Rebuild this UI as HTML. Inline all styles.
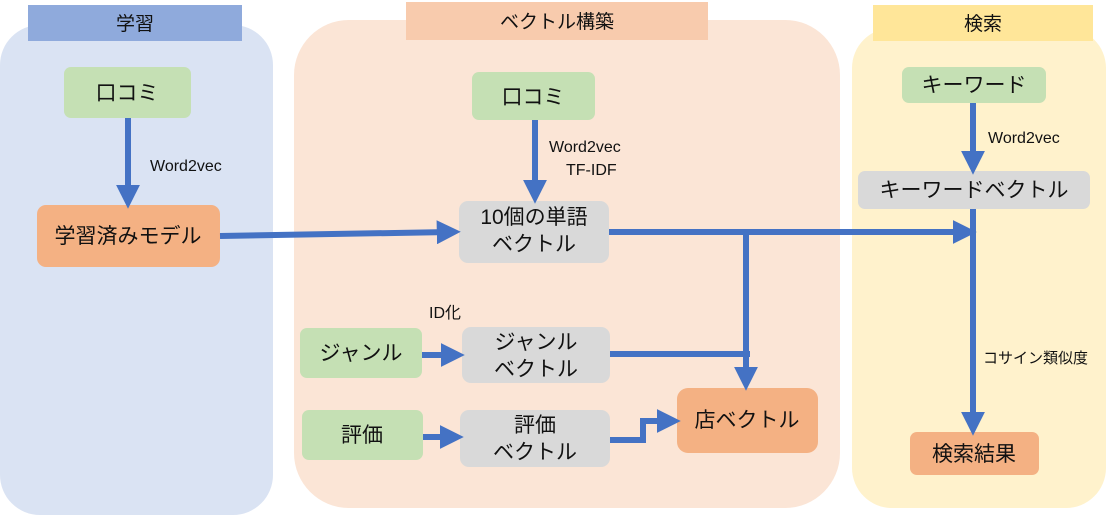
<!DOCTYPE html>
<html><head><meta charset="utf-8"><style>
body{margin:0;width:1115px;height:517px;background:#fff;overflow:hidden;font-family:"Liberation Sans","Noto Sans CJK JP",sans-serif}
</style></head><body>
<svg width="1115" height="517" xmlns="http://www.w3.org/2000/svg" font-family="Liberation Sans, Noto Sans CJK JP, sans-serif">
<defs><marker id="a" markerWidth="4" markerHeight="4" refX="2.2" refY="2" orient="auto" markerUnits="strokeWidth"><path d="M0,0 L4,2 L0,4z" fill="#4472c4"/></marker></defs>
<rect x="0" y="25" width="273" height="490" rx="40" fill="#dae3f3"/>
<rect x="294" y="20" width="546" height="488" rx="55" fill="#fbe5d6"/>
<rect x="852" y="28" width="254" height="480" rx="40" fill="#fff2cc"/>
<rect x="28" y="5" width="214" height="36" fill="#8faadc"/>
<rect x="406" y="2" width="302" height="38" fill="#f8cbad"/>
<rect x="873" y="5" width="220" height="36" fill="#ffe699"/>
<g font-size="19" fill="#111" text-anchor="middle">
<text x="135" y="30">学習</text><text x="557" y="28">ベクトル構築</text><text x="983" y="30">検索</text>
</g>
<g fill="#c5e0b4"><rect x="64" y="67" width="127" height="51" rx="7"/><rect x="472" y="72" width="123" height="48" rx="7"/><rect x="300" y="328" width="122" height="50" rx="7"/><rect x="302" y="410" width="121" height="50" rx="7"/><rect x="902" y="67" width="144" height="36" rx="7"/></g>
<g fill="#f4b183"><rect x="37" y="205" width="183" height="62" rx="9"/><rect x="677" y="388" width="141" height="65" rx="11"/><rect x="910" y="432" width="129" height="43" rx="7"/></g>
<g fill="#d9d9d9"><rect x="459" y="201" width="150" height="62" rx="9"/><rect x="462" y="327" width="148" height="56" rx="9"/><rect x="460" y="410" width="150" height="57" rx="9"/><rect x="858" y="171" width="232" height="38" rx="7"/></g>
<g stroke="#4472c4" stroke-width="6" fill="none">
<path d="M128 118 V198" marker-end="url(#a)"/>
<path d="M220 236 L450 232" marker-end="url(#a)"/>
<path d="M535 120 V193" marker-end="url(#a)"/>
<path d="M609 232 H966" marker-end="url(#a)"/>
<path d="M746 232 V380" marker-end="url(#a)"/>
<path d="M610 354 H750"/>
<path d="M422 355 H454" marker-end="url(#a)"/>
<path d="M423 437 H453" marker-end="url(#a)"/>
<path d="M610 440 H643 V421 H670" marker-end="url(#a)"/>
<path d="M973 103 V164" marker-end="url(#a)"/>
<path d="M973 209 V425" marker-end="url(#a)"/>
</g>
<g font-size="21" fill="#111" text-anchor="middle">
<text x="127" y="100">口コミ</text><text x="533" y="104">口コミ</text>
<text x="128" y="243">学習済みモデル</text>
<text x="534" y="224">10個の単語</text><text x="534" y="251">ベクトル</text>
<text x="361" y="360">ジャンル</text>
<text x="536" y="349">ジャンル</text><text x="536" y="376">ベクトル</text>
<text x="362" y="442">評価</text>
<text x="535" y="432">評価</text><text x="535" y="459">ベクトル</text>
<text x="747" y="427">店ベクトル</text>
<text x="974" y="92">キーワード</text><text x="974" y="197">キーワードベクトル</text>
<text x="974" y="461">検索結果</text>
</g>
<g font-size="16" fill="#111">
<text x="150" y="171">Word2vec</text>
<text x="549" y="152">Word2vec</text><text x="566" y="175">TF-IDF</text>
<text x="429" y="318">ID化</text>
<text x="988" y="143">Word2vec</text>
<text x="983" y="363" font-size="15">コサイン類似度</text>
</g>
</svg>
</body></html>
